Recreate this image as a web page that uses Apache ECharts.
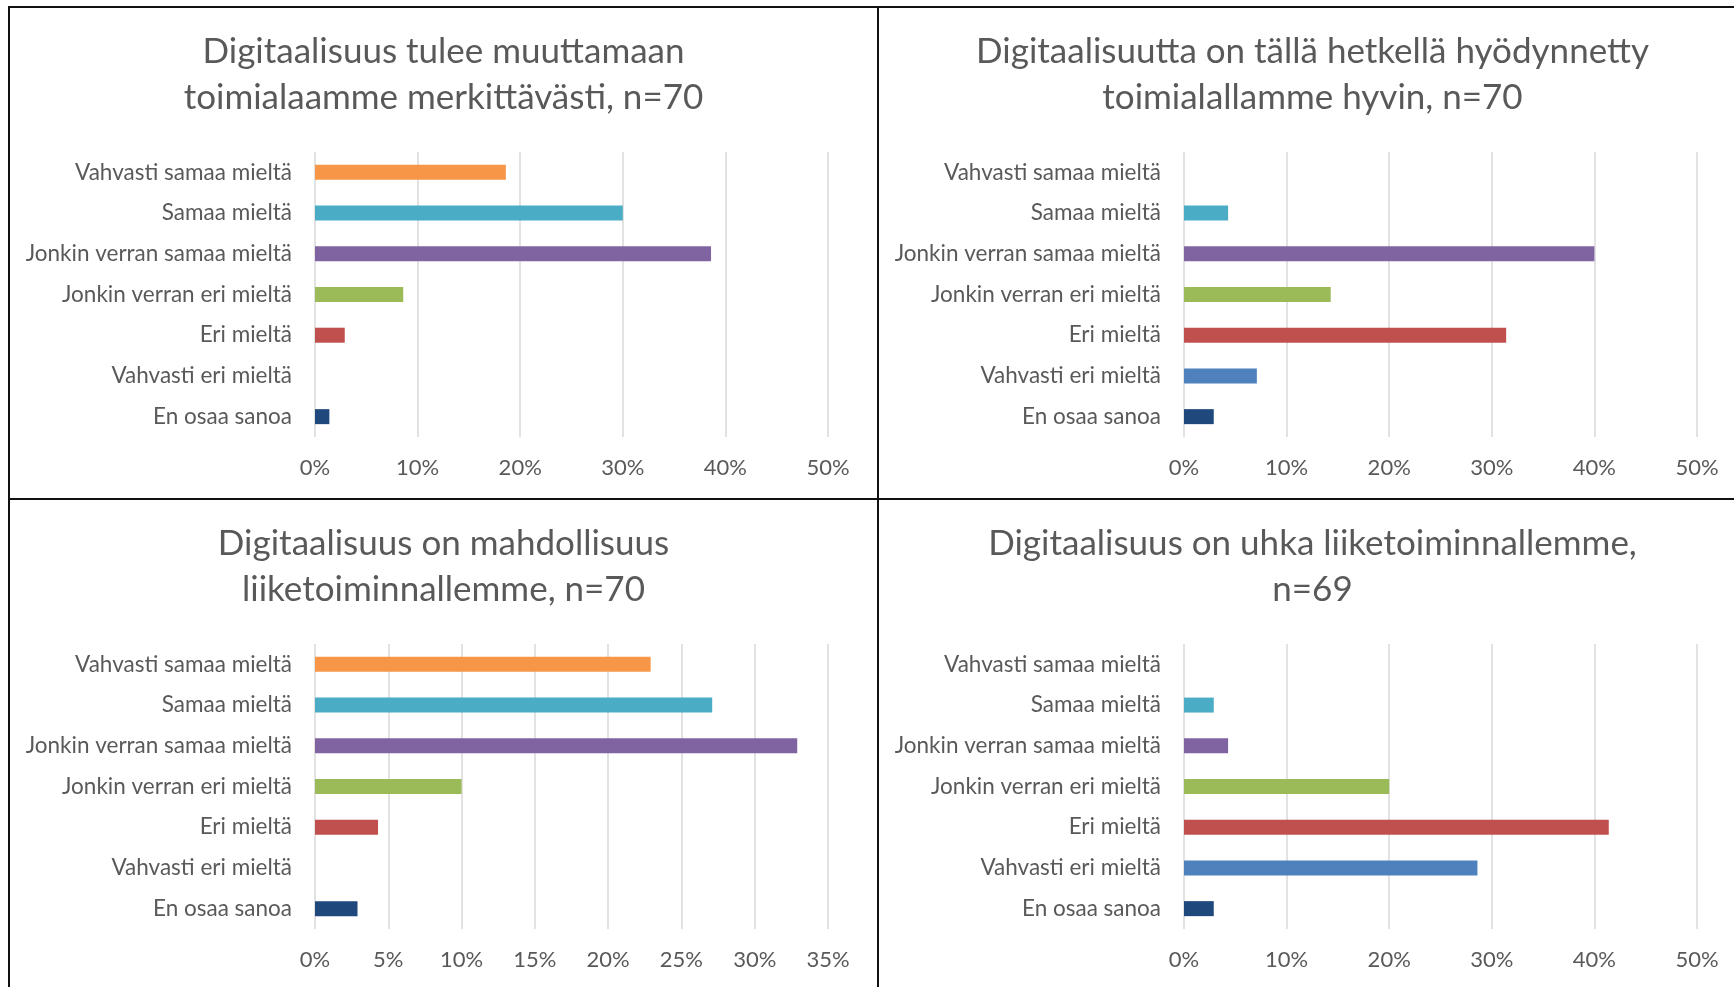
<!DOCTYPE html>
<html>
<head>
<meta charset="utf-8">
<title>Digitaalisuus</title>
<script src="https://cdn.jsdelivr.net/npm/echarts@6/dist/echarts.min.js"></script>
<style>
    html, body { margin: 0; padding: 0; background: #fff; overflow: hidden; }
    body { width: 1734px; height: 987px; position: relative; }
    .line { position: absolute; background: #111; }
    .panel { position: absolute; width: 867px; height: 488px; }
</style>
</head>
<body>
<!-- reunaviivat -->
<div class="line" style="left:8px;top:6px;width:1726px;height:2px"></div>
<div class="line" style="left:8px;top:6px;width:2px;height:981px"></div>
<div class="line" style="left:877px;top:6px;width:2px;height:981px"></div>
<div class="line" style="left:8px;top:498px;width:1726px;height:2px"></div>

<div class="panel" id="c1" style="left:10px;top:8px"></div>
<div class="panel" id="c2" style="left:879px;top:8px"></div>
<div class="panel" id="c3" style="left:10px;top:500px;height:487px"></div>
<div class="panel" id="c4" style="left:879px;top:500px;height:487px"></div>

<script>
// vastausvaihtoehdot
let categories = ['Vahvasti samaa mieltä', 'Samaa mieltä', 'Jonkin verran samaa mieltä',
    'Jonkin verran eri mieltä', 'Eri mieltä', 'Vahvasti eri mieltä', 'En osaa sanoa'];
let barColors = ['#F79646', '#4BACC6', '#8064A2', '#9BBB59', '#C0504D', '#4F81BD', '#1F497D'];

// osuudet prosentteina
let muuttaa = [18.6, 30.0, 38.6, 8.6, 2.9, 0, 1.4];
let hyodynnetty = [0, 4.3, 40.0, 14.3, 31.4, 7.1, 2.9];
let mahdollisuus = [22.9, 27.1, 32.9, 10.0, 4.3, 0, 2.9];
let uhka = [0, 2.9, 4.3, 20.0, 41.4, 28.6, 2.9];

let titles = [
    'Digitaalisuus tulee muuttamaan\ntoimialaamme merkittävästi, n=70',
    'Digitaalisuutta on tällä hetkellä hyödynnetty\ntoimialallamme hyvin, n=70',
    'Digitaalisuus on mahdollisuus\nliiketoiminnallemme, n=70',
    'Digitaalisuus on uhka liiketoiminnallemme,\nn=69'
];
let maxima = [50, 50, 35, 50];
let steps = [10, 10, 5, 10];

let font = 'Lato, "Open Sans", sans-serif';
let grey = '#595959';

function drawChart(id, title, values, max, step) {
    let myChart = echarts.init(document.getElementById(id));
    let option = {
        animation: false,
        title: {
            text: title,
            left: 'center',
            top: 21,
            padding: 0,
            textStyle: {
                fontFamily: font,
                fontSize: 35,
                fontWeight: 'normal',
                color: grey,
                lineHeight: 46
            }
        },
        grid: { left: 305, top: 144, width: 513, height: 285 },
        xAxis: {
            type: 'value',
            min: 0,
            max: max,
            interval: step,
            axisLine: { show: false },
            axisTick: { show: false },
            splitLine: { lineStyle: { color: '#d9d9d9', width: 1.5 } },
            axisLabel: {
                formatter: '{value}%',
                margin: 20,
                fontFamily: font,
                fontSize: 22,
                color: grey
            }
        },
        yAxis: {
            type: 'category',
            inverse: true,
            data: categories,
            axisLine: { show: false },
            axisTick: { show: false },
            axisLabel: {
                margin: 23,
                fontFamily: font,
                fontSize: 22.5,
                color: grey
            }
        },
        series: [{
            type: 'bar',
            data: values,
            barWidth: 15,
            itemStyle: {
                color: function (p) { return barColors[p.dataIndex]; }
            }
        }]
    };
    myChart.setOption(option);
}

drawChart('c1', titles[0], muuttaa, maxima[0], steps[0]);
drawChart('c2', titles[1], hyodynnetty, maxima[1], steps[1]);
drawChart('c3', titles[2], mahdollisuus, maxima[2], steps[2]);
drawChart('c4', titles[3], uhka, maxima[3], steps[3]);
</script>
</body>
</html>
